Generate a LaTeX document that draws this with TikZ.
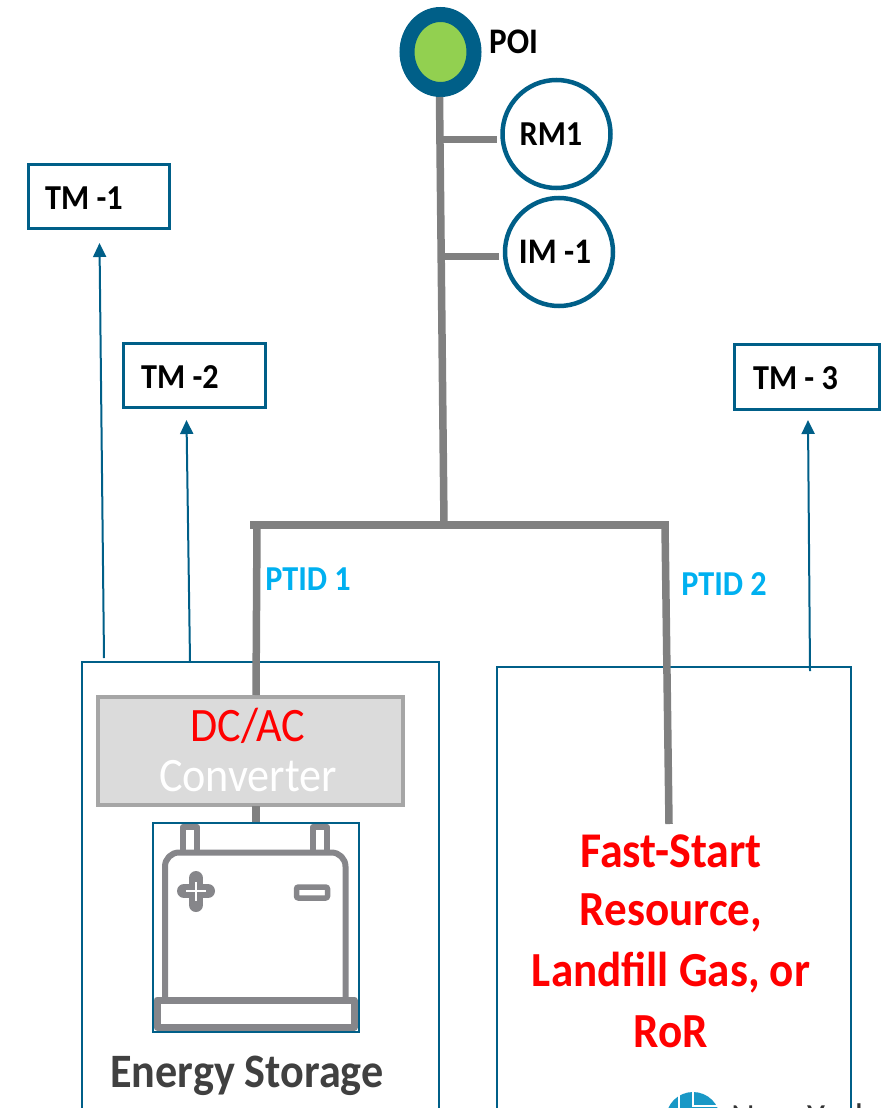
\documentclass[tikz,border=0pt]{standalone}
\usepackage{fontspec}
\setmainfont[FakeStretch=0.92]{Carlito}
\usetikzlibrary{arrows.meta,shapes.geometric}
\definecolor{tealb}{HTML}{005F88}
\definecolor{wire}{HTML}{808080}
\definecolor{iconc}{HTML}{86868A}
\definecolor{ptid}{HTML}{00B0F0}
\definecolor{poig}{HTML}{92D050}
\tikzset{
  px/.style={x=1pt,y=-1pt},
  lbl/.style={inner sep=0pt,font=\fontsize{36}{36}\selectfont\bfseries,text=black},
  meter/.style={circle,draw=tealb,line width=4.5pt,fill=white,minimum size=108pt,inner sep=0pt,font=\fontsize{37}{37}\selectfont\bfseries},
  tmbox/.style={draw=tealb,line width=3pt,fill=white,inner sep=0pt},
  tmtext/.style={inner sep=0pt,font=\fontsize{35}{35}\selectfont\bfseries},
  bigbox/.style={draw=tealb,line width=2pt},
  wireline/.style={draw=wire,line width=7.5pt},
  sig/.style={draw=tealb,line width=2pt,-{Triangle[length=14pt,width=13pt]}},
  ptidlbl/.style={inner sep=0pt,text=ptid,font=\fontsize{35}{35}\selectfont\bfseries},
  redlbl/.style={inner sep=0pt,text=red,font=\fontsize{49}{49}\selectfont\bfseries},
  icon/.style={draw=iconc,line width=6pt,line join=round},
}
\begin{document}
\begin{tikzpicture}[px]
\useasboundingbox (0,0) rectangle (884,1108);
\clip (0,0) rectangle (884,1108);
% containers
\draw[bigbox] (82,1130) |- (439,662) -- (439,1130);
\draw[bigbox] (497,1130) |- (851,667) -- (851,1130);
% nodes
\node[ellipse,draw=tealb,fill=poig,line width=15pt,minimum width=67pt,minimum height=75pt,inner sep=0pt] (poi) at (440.5,52) {};
\node[lbl,anchor=west] (poilbl) at (489,42) {POI};
\node[meter] (rm) at (556.5,134) {};
\node[meter] (im) at (559,252) {};
\node[tmtext] (rmt) at (551,134) {RM1};
\node[tmtext,font=\fontsize{36}{36}\selectfont\bfseries] (imt) at (555,252) {IM -1};
\node[tmbox,minimum width=141pt,minimum height=64pt] (tm1) at (98.5,196.5) {};
\node[tmbox,minimum width=142pt,minimum height=64pt] (tm2) at (194.5,375.5) {};
\node[tmbox,minimum width=145pt,minimum height=65pt] (tm3) at (807,376.5) {};
\node[tmtext] (tm1t) at (84,198) {TM -1};
\node[tmtext] (tm2t) at (180,377) {TM -2};
\node[tmtext] (tm3t) at (795.5,378) {TM - 3};
\node[draw=black!35,fill=black!14,line width=4.5pt,minimum width=305pt,minimum height=108pt,inner sep=0pt] (conv) at (250.5,751) {};
\node[inner sep=0pt,text=red,font=\fontsize{48}{48}\selectfont] (dcac) at (248,726) {DC/AC};
\node[inner sep=0pt,text=white,font=\fontsize{48}{48}\selectfont] (convt) at (248,776) {Converter};
\node[draw=tealb,line width=2pt,minimum width=206pt,minimum height=209pt,inner sep=0pt] (bat) at (255.5,927) {};
% bus coordinates
\coordinate (trunkb) at (444,525);
\coordinate (busl) at (250,525);
\coordinate (busr) at (669,525);
\coordinate (tapl) at (257,525);
\coordinate (tapr) at (665,525);
\coordinate (rmj) at (442,139);
\coordinate (imj) at (444,256);
\coordinate (rme) at (497,139);
\coordinate (ime) at (499,256);
\coordinate (fsend) at (669,824);
% wires
\draw[wireline] (poi.south) ++(-1,0) -- (trunkb);
\draw[wireline,line width=7pt] (rmj) -- (rme);
\draw[wireline,line width=7pt] (imj) -- (ime);
\draw[wireline] (busl) -- (busr);
\draw[wireline] (tapl) -- (256,695);
\draw[wireline] (tapr) -- (fsend);
\draw[wireline] (256,806) -- (256,822);
% signal arrows
\coordinate (a1) at (104,658);
\coordinate (a2) at (190,661);
\coordinate (a3) at (810,671);
\coordinate (h1) at (99.5,243);
\coordinate (h2) at (186.5,420);
\coordinate (h3) at (808,420);
\draw[sig] (a1) -- (h1);
\draw[sig] (a2) -- (h2);
\draw[sig] (a3) -- (h3);
% labels
\node[ptidlbl] (p1) at (308,579) {PTID 1};
\node[ptidlbl] (p2) at (724,584) {PTID 2};
\node[inner sep=0pt,text=black!75,font=\fontsize{48}{48}\selectfont\bfseries] (es) at (247,1076) {Energy Storage};
\node[redlbl,font=\fontsize{50}{50}\selectfont\bfseries] (f1) at (671,851) {Fast-Start};
\node[redlbl] (f2) at (671,913) {Resource,};
\node[redlbl] (f3) at (671,973) {Landfill Gas, or};
\node[redlbl] (f4) at (671,1032) {RoR};
% battery icon
\draw[icon,rounded corners=14pt] (165,1002) -- (165,852.5) -- (345.5,852.5) -- (345.5,1002);
\draw[icon,line width=7pt,fill=white] (157,1000) rectangle (354,1027);
\draw[icon] (183,853) -- (183,827) -- (197,827) -- (197,853);
\draw[icon] (313,853) -- (313,827) -- (327,827) -- (327,853);
\draw[iconc,line width=14pt,line cap=round] (196,878) -- (196,905);
\draw[iconc,line width=14pt,line cap=round] (184,891) -- (208,891);
\draw[white,line width=1.2pt] (196,882) -- (196,901) (186,891) -- (206,891);
\draw[draw=iconc,line width=5.5pt,rounded corners=2pt,fill=white] (296.5,887) rectangle (327.5,898);
% logo, cut by the page edge
\fill[ptid!80!black!90] (693,1119) circle[radius=27];
\draw[white,line width=1.5pt] (679,1090) -- (679,1108) (693,1090) -- (693,1106) -- (722,1106);
\node[anchor=base west,inner sep=0pt,text=black!80,font=\fontsize{40}{40}\selectfont] (nyt) at (731,1131) {New York};
\end{tikzpicture}
\end{document}
